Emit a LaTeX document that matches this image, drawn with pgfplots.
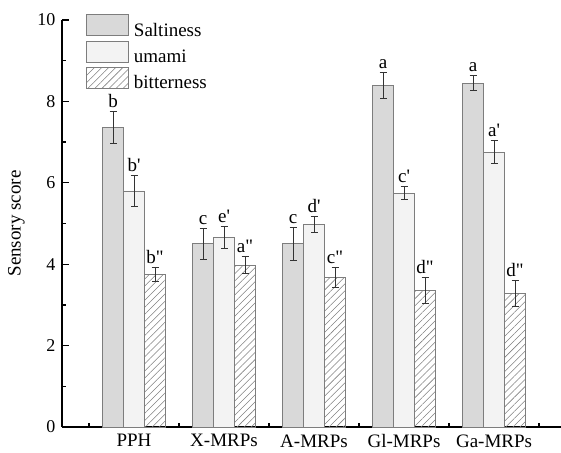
\documentclass[border=0pt]{standalone}
\usepackage{fontspec}
\setmainfont{Liberation Serif}
\usepackage{pgfplots}
\pgfplotsset{compat=1.18}
\usetikzlibrary{patterns.meta}
\definecolor{salt}{RGB}{217,217,217}
\definecolor{uma}{RGB}{243,243,243}
\definecolor{edge}{RGB}{125,125,125}
\newcommand{\ff}{\fontsize{19}{22}\selectfont}
\begin{document}
\ff
\begin{tikzpicture}
\useasboundingbox (-62pt,-25pt) rectangle (499pt,427pt);
\begin{axis}[
  at={(0,0)}, anchor=south west,
  scale only axis, width=499pt, height=407pt,
  xmin=-0.8, xmax=4.744, ymin=0, ymax=10,
  axis x line=bottom, axis y line=left,
  axis line style={-, line width=1.2pt, black},
  xtick={0,1,2,3,4}, xticklabels={PPH,X-MRPs,A-MRPs,Gl-MRPs,Ga-MRPs},
  minor xtick={-0.5,0.5,1.5,2.5,3.5,4.5},
  ytick={0,2,4,6,8,10}, minor ytick={1,3,5,7,9},
  tick align=inside,
  major tick length=7pt, minor tick length=4pt,
  tick style={line width=1.2pt, black},
  ylabel={Sensory score},
  /pgf/number format/assume math mode=true,
  yticklabel style={font=\fontsize{18}{21}\selectfont},
  xticklabel style={font=\ff, yshift=-1pt},
  label style={font=\ff},
  clip=false,
  legend image code/.code={\draw[#1] (0pt,-4.5pt) rectangle (42pt,16.5pt);},
  legend cell align=left,
  legend style={draw=none, fill=none, at={(rel axis cs:0.048,1.015)}, anchor=north west,
    inner sep=0pt, row sep=0.5pt, nodes={inner sep=1pt},
    font=\ff,
    /tikz/every odd column/.append style={column sep=4pt}},
  every axis plot/.append style={line width=0.8pt},
  error bars/y dir=both, error bars/y explicit,
  error bars/error mark=-,
  error bars/error bar style={black!80, line width=0.8pt},
  error bars/error mark options={rotate=90, black!80, mark size=3.5pt, line width=0.8pt},
]
\addlegendimage{fill=salt, draw=edge, line width=0.8pt}
\addlegendentry{Saltiness}
\addlegendimage{fill=uma, draw=edge, line width=0.8pt}
\addlegendentry{umami}
\addlegendimage{pattern={Lines[angle=45,distance=5pt,line width=0.55pt]}, pattern color=black!50, draw=edge, line width=0.8pt}
\addlegendentry{bitterness}

\addplot[forget plot, ybar, bar width=0.2333, bar shift=0, fill=salt, draw=edge]
coordinates {(-0.2333,7.36) +- (0,0.40) (0.7667,4.50) +- (0,0.38) (1.7667,4.50) +- (0,0.40) (2.7667,8.39) +- (0,0.32) (3.7667,8.45) +- (0,0.19)};
\addplot[forget plot, ybar, bar width=0.2333, bar shift=0, fill=uma, draw=edge]
coordinates {(0,5.80) +- (0,0.37) (1,4.66) +- (0,0.27) (2,4.97) +- (0,0.20) (3,5.74) +- (0,0.16) (4,6.75) +- (0,0.28)};
\addplot[forget plot, ybar, bar width=0.2333, bar shift=0, pattern={Lines[angle=45,distance=5pt,line width=0.55pt]}, pattern color=black!50, draw=edge]
coordinates {(0.2333,3.75) +- (0,0.18) (1.2333,3.98) +- (0,0.20) (2.2333,3.67) +- (0,0.25) (3.2333,3.35) +- (0,0.32) (4.2333,3.28) +- (0,0.31)};

\addplot[forget plot, draw=none, mark=none, error bars/y dir=none, nodes near coords, point meta=explicit symbolic,
  nodes near coords style={anchor=base, inner sep=0pt, yshift=4pt, font=\ff, black}]
coordinates {
(-0.2333,7.76) [b] (0,6.17) [b\textquotesingle] (0.2333,3.93) [b\textquotedbl]
(0.7667,4.88) [c] (1,4.93) [e\textquotesingle] (1.2333,4.18) [a\textquotedbl]
(1.7667,4.90) [c] (2,5.17) [d\textquotesingle] (2.2333,3.92) [c\textquotedbl]
(2.7667,8.71) [a] (3,5.90) [c\textquotesingle] (3.2333,3.67) [d\textquotedbl]
(3.7667,8.64) [a] (4,7.03) [a\textquotesingle] (4.2333,3.59) [d\textquotedbl]
};
\end{axis}
\end{tikzpicture}
\end{document}
